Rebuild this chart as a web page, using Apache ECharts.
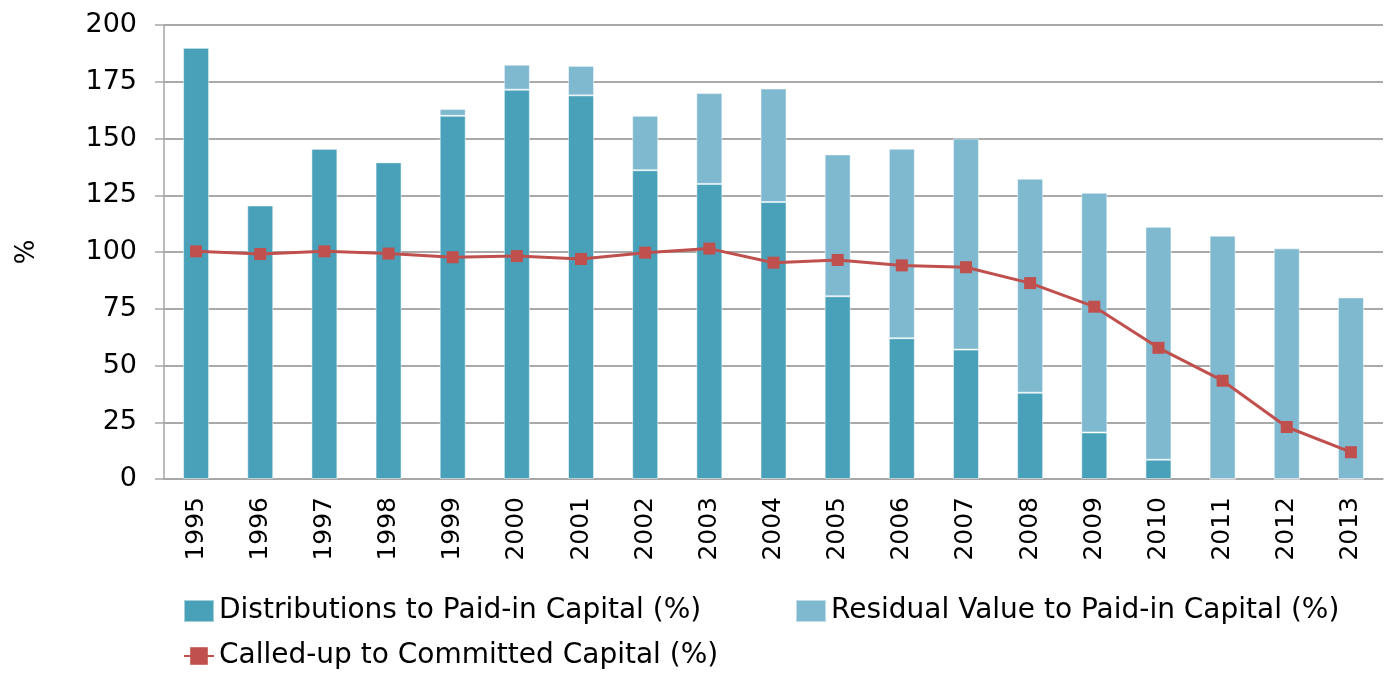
<!DOCTYPE html>
<html>
<head>
<meta charset="utf-8">
<script src="https://cdn.jsdelivr.net/npm/echarts@6/dist/echarts.min.js"></script>
<style>
  html, body { margin: 0; padding: 0; background: #fff; }
  #main { width: 1391px; height: 673px; }
</style>
</head>
<body>
<div id="main"></div>
<script>
const years = ["1995", "1996", "1997", "1998", "1999", "2000", "2001", "2002", "2003", "2004",
    "2005", "2006", "2007", "2008", "2009", "2010", "2011", "2012", "2013"];
const distributions = [190, 120.5, 145.5, 139.5, 160, 171.5, 169, 136, 130, 122,
    80.5, 62, 57, 38, 20.5, 8.5, 0, 0, 0];
const residual = [0, 0, 0, 0, 3, 11, 13, 24, 40, 50,
    62.5, 83.5, 93, 94.3, 105.6, 102.6, 107.2, 101.6, 80];
const calledUp = [100.3, 99.1, 100.3, 99.3, 97.7, 98.2, 96.9, 99.7, 101.5, 95.3,
    96.5, 94.1, 93.3, 86.3, 75.9, 57.8, 43.3, 22.9, 11.8];
const yTicks = { min: 0, max: 200, interval: 25 };

const font = "DejaVu Sans";
const legendText = { fontFamily: font, fontSize: 28, color: "#000" };
const legendBase = { padding: 0, itemWidth: 30, itemHeight: 22, itemGap: 4, textStyle: legendText };

const chart = echarts.init(document.getElementById("main"));
chart.setOption({
    animation: false,
    textStyle: { fontFamily: font },
    grid: { left: 164, right: 8, top: 25, bottom: 194 },
    legend: [
        Object.assign({ left: 183, top: 597, data: [{ name: "Distributions to Paid-in Capital (%)", icon: "rect" }] }, legendBase),
        Object.assign({ left: 795, top: 597, data: [{ name: "Residual Value to Paid-in Capital (%)", icon: "rect" }] }, legendBase),
        Object.assign({ left: 183, top: 642, data: ["Called-up to Committed Capital (%)"] }, legendBase),
    ],
    xAxis: {
        type: "category",
        data: years,
        axisLine: { lineStyle: { color: "#a6a6a6", width: 1.5 } },
        axisTick: { length: 8, lineStyle: { color: "#a6a6a6", width: 1.5 } },
        axisLabel: { rotate: 90, margin: 18, fontSize: 25, color: "#000", fontFamily: font },
    },
    yAxis: {
        type: "value",
        min: yTicks.min, max: yTicks.max, interval: yTicks.interval,
        name: "%",
        nameLocation: "middle",
        nameGap: 124,
        nameRotate: 90,
        nameTextStyle: { fontSize: 26, color: "#000", fontFamily: font },
        axisLine: { show: true, lineStyle: { color: "#a6a6a6", width: 1.5 } },
        axisTick: { show: true, length: 9, lineStyle: { color: "#a6a6a6", width: 1.5 } },
        axisLabel: { margin: 27, fontSize: 27, color: "#000", fontFamily: font },
        splitLine: { lineStyle: { color: "#8c8c8c", width: 1.5 } },
    },
    series: [
        {
            name: "Distributions to Paid-in Capital (%)",
            type: "bar",
            stack: "total",
            barWidth: 26,
            data: distributions,
            itemStyle: { color: "#48a1b9", borderColor: "rgba(255,255,255,0.5)", borderWidth: 1 },
        },
        {
            name: "Residual Value to Paid-in Capital (%)",
            type: "bar",
            stack: "total",
            barWidth: 26,
            data: residual,
            itemStyle: { color: "#7eb9cf", borderColor: "rgba(255,255,255,0.5)", borderWidth: 1 },
        },
        {
            name: "Called-up to Committed Capital (%)",
            type: "line",
            data: calledUp,
            symbol: "rect",
            symbolSize: 12,
            lineStyle: { color: "#c0504d", width: 3 },
            itemStyle: { color: "#c0504d" },
        },
    ],
});
</script>
</body>
</html>
